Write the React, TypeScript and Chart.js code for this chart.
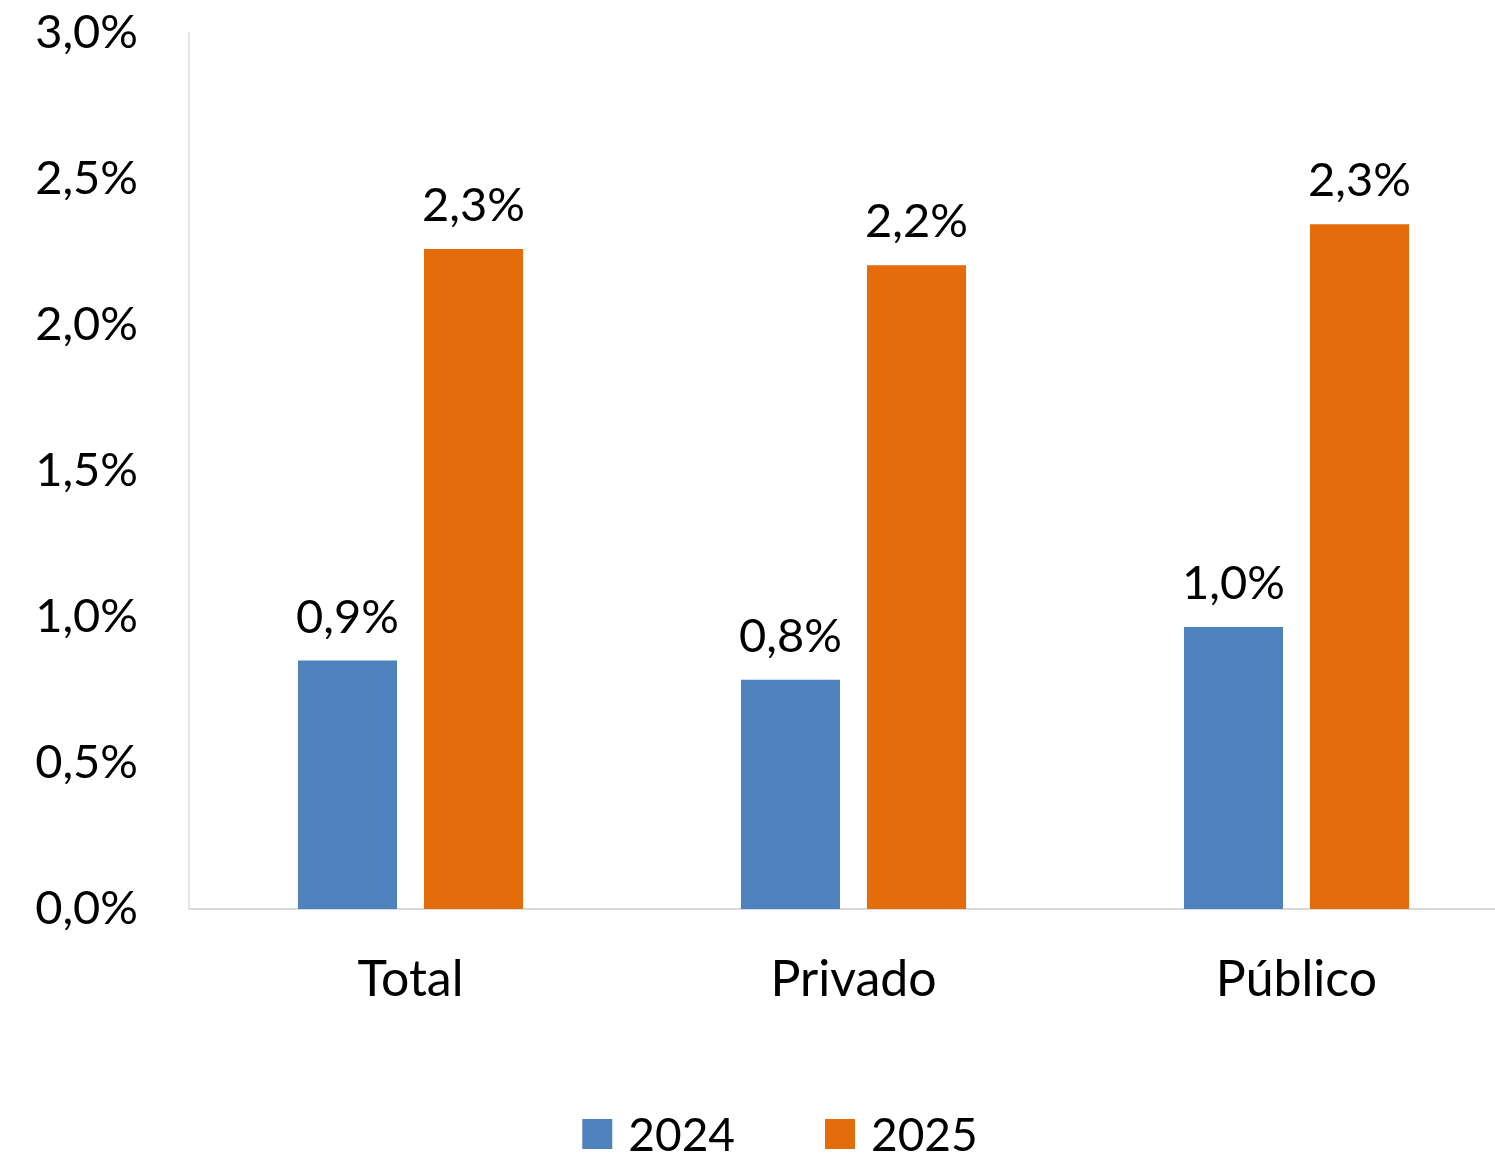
import React, { useEffect, useRef } from "react";
import { Chart, registerables } from "chart.js";

Chart.register(...registerables);

const categories = ["Total", "Privado", "Público"];
const seriesLabels = ["2024", "2025"];
const values2024 = [0.851, 0.785, 0.966];
const values2025 = [2.26, 2.205, 2.345];
const seriesColors = ["#4F81BD", "#E46C0A"];
const yTicks = { min: 0, max: 3, step: 0.5 };

const FONT = "Lato";
const fmtPct = (v: number) => v.toFixed(1).replace(".", ",") + "%";

const dataLabelPlugin = {
  id: "dataLabels",
  afterDatasetsDraw(chart: any) {
    const ctx = chart.ctx;
    ctx.save();
    ctx.font = `47px ${FONT}`;
    ctx.fillStyle = "#000";
    ctx.textAlign = "center";
    ctx.textBaseline = "alphabetic";
    chart.data.datasets.forEach((ds: any, di: number) => {
      const meta = chart.getDatasetMeta(di);
      meta.data.forEach((el: any, i: number) => {
        ctx.fillText(fmtPct(ds.data[i]), el.x, el.y - 28);
      });
    });
    ctx.restore();
  },
};

const legendPlugin = {
  id: "customLegend",
  afterDraw(chart: any) {
    const ctx = chart.ctx;
    const box = 30;
    const boxGap = 16;
    const itemGap = 90;
    const centerX = 780;
    const centerY = 1134;
    ctx.save();
    ctx.font = `46px ${FONT}`;
    ctx.textBaseline = "middle";
    ctx.textAlign = "left";
    const items = chart.data.datasets.map((ds: any) => ({
      text: ds.label,
      color: ds.backgroundColor,
      w: box + boxGap + ctx.measureText(ds.label).width,
    }));
    const total = items.reduce((s: number, it: any) => s + it.w, 0) + itemGap * (items.length - 1);
    let x = centerX - total / 2;
    items.forEach((it: any) => {
      ctx.fillStyle = it.color;
      ctx.fillRect(x, centerY - box / 2, box, box);
      ctx.fillStyle = "#000";
      ctx.fillText(it.text, x + box + boxGap, centerY + 2);
      x += it.w + itemGap;
    });
    ctx.restore();
  },
};

export default function App() {
  const ref = useRef<HTMLCanvasElement | null>(null);
  useEffect(() => {
    if (!ref.current) return;
    Chart.defaults.font.family = FONT;
    const chart = new Chart(ref.current, {
      type: "bar",
      data: {
        labels: categories,
        datasets: [
          { label: seriesLabels[0], data: values2024, backgroundColor: seriesColors[0] },
          { label: seriesLabels[1], data: values2025, backgroundColor: seriesColors[1] },
        ],
      },
      options: {
        responsive: false,
        animation: false,
        devicePixelRatio: 1,
        layout: { padding: { top: 33, left: 0, right: 0, bottom: 0 } },
        datasets: { bar: { categoryPercentage: 0.569, barPercentage: 0.786 } },
        plugins: { legend: { display: false }, tooltip: { enabled: false } },
        scales: {
          x: {
            grid: { display: false, drawTicks: false },
            border: { display: true, color: "#d9d9d9", width: 2 },
            ticks: { color: "#000", font: { size: 50, family: FONT }, padding: 41 },
            afterFit: (s: any) => { s.height = 246; s.paddingLeft = 0; s.paddingRight = 0; },
          },
          y: {
            min: yTicks.min,
            max: yTicks.max,
            grid: { display: false, drawTicks: false },
            border: { display: true, color: "#e6e6de", width: 2 },
            ticks: {
              stepSize: yTicks.step,
              color: "#000",
              font: { size: 47, family: FONT },
              padding: 51,
              callback: (v: any) => fmtPct(Number(v)),
            },
            afterFit: (s: any) => { s.width = 189; s.paddingTop = 0; s.paddingBottom = 0; },
          },
        },
      },
      plugins: [dataLabelPlugin, legendPlugin],
    });
    return () => chart.destroy();
  }, []);
  return (
    <div style={{ position: "fixed", left: 0, top: 0, width: 1495, height: 1155, overflow: "hidden", background: "#fff" }}>
      <canvas ref={ref} width={1518} height={1155} style={{ display: "block" }} />
    </div>
  );
}
